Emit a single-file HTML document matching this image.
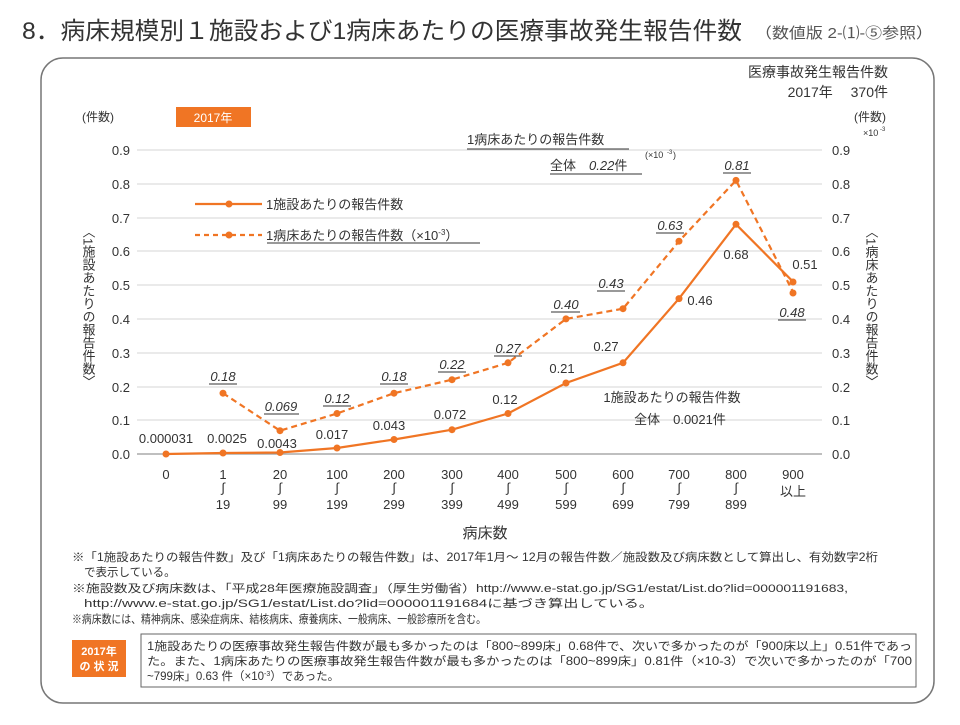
<!DOCTYPE html>
<html><head><meta charset="utf-8"><style>
body{margin:0;background:#fff;width:960px;height:720px;overflow:hidden}
svg text{font-family:"Liberation Sans","Noto Sans CJK JP",sans-serif;fill:#333}
</style></head><body>
<svg width="960" height="720" xmlns="http://www.w3.org/2000/svg">
<text x="22" y="39" font-size="24" textLength="720" lengthAdjust="spacingAndGlyphs">8．病床規模別１施設および1病床あたりの医療事故発生報告件数</text>
<text x="755" y="38" font-size="15" textLength="178" lengthAdjust="spacingAndGlyphs" style="fill:#555">（数値版 2-⑴-⑤参照）</text>
<rect x="41" y="58" width="893" height="645" rx="22" fill="none" stroke="#777" stroke-width="1.5"/>
<text x="888" y="77" font-size="14" text-anchor="end">医療事故発生報告件数</text>
<text x="888" y="97" font-size="14" text-anchor="end">2017年　  370件</text>
<text x="98" y="121" font-size="12" text-anchor="middle">(件数)</text>
<rect x="176" y="107" width="75" height="20" fill="#f07524"/>
<text x="213" y="122" font-size="12" text-anchor="middle" style="fill:#fff">2017年</text>
<text x="870" y="121" font-size="12" text-anchor="middle">(件数)</text>
<text x="863" y="136" font-size="9">×10</text><text x="880" y="131" font-size="6">-3</text>
<g stroke="#ddd" stroke-width="1.3">
<line x1="137" x2="822" y1="150" y2="150"/><line x1="137" x2="822" y1="184" y2="184"/><line x1="137" x2="822" y1="218" y2="218"/><line x1="137" x2="822" y1="251" y2="251"/><line x1="137" x2="822" y1="285" y2="285"/><line x1="137" x2="822" y1="319" y2="319"/><line x1="137" x2="822" y1="353" y2="353"/><line x1="137" x2="822" y1="387" y2="387"/><line x1="137" x2="822" y1="420" y2="420"/>
</g>
<line x1="137" x2="822" y1="454" y2="454" stroke="#999" stroke-width="1.3"/>
<g font-size="13" text-anchor="end">
<text x="130" y="155">0.9</text><text x="130" y="189">0.8</text><text x="130" y="223">0.7</text><text x="130" y="256">0.6</text><text x="130" y="290">0.5</text><text x="130" y="324">0.4</text><text x="130" y="358">0.3</text><text x="130" y="392">0.2</text><text x="130" y="425">0.1</text><text x="130" y="459">0.0</text>
</g>
<g font-size="13">
<text x="832" y="155">0.9</text><text x="832" y="189">0.8</text><text x="832" y="223">0.7</text><text x="832" y="256">0.6</text><text x="832" y="290">0.5</text><text x="832" y="324">0.4</text><text x="832" y="358">0.3</text><text x="832" y="392">0.2</text><text x="832" y="425">0.1</text><text x="832" y="459">0.0</text>
</g>
<text font-size="13" x="88" y="225" style="writing-mode:vertical-rl">〈1施設あたりの報告件数〉</text>
<text font-size="13" x="871" y="225" style="writing-mode:vertical-rl">〈1病床あたりの報告件数〉</text>
<g font-size="13" text-anchor="middle">
<text x="166" y="479">0</text>
<text x="223" y="479">1</text><text x="223" y="492">∫</text><text x="223" y="509">19</text>
<text x="280" y="479">20</text><text x="280" y="492">∫</text><text x="280" y="509">99</text>
<text x="337" y="479">100</text><text x="337" y="492">∫</text><text x="337" y="509">199</text>
<text x="394" y="479">200</text><text x="394" y="492">∫</text><text x="394" y="509">299</text>
<text x="452" y="479">300</text><text x="452" y="492">∫</text><text x="452" y="509">399</text>
<text x="508" y="479">400</text><text x="508" y="492">∫</text><text x="508" y="509">499</text>
<text x="566" y="479">500</text><text x="566" y="492">∫</text><text x="566" y="509">599</text>
<text x="623" y="479">600</text><text x="623" y="492">∫</text><text x="623" y="509">699</text>
<text x="679" y="479">700</text><text x="679" y="492">∫</text><text x="679" y="509">799</text>
<text x="736" y="479">800</text><text x="736" y="492">∫</text><text x="736" y="509">899</text>
<text x="793" y="479">900</text><text x="793" y="496">以上</text>
<text x="485" y="538" font-size="15">病床数</text>
</g>
<polyline fill="none" stroke="#f07524" stroke-width="2.2" points="166,454 223,453 280,452.5 337,448 394,439.5 452,429.7 508,413.5 566,383 623,362.8 679,298.6 736,224.3 793,281.7"/>
<polyline fill="none" stroke="#f07524" stroke-width="2.2" stroke-dasharray="6,4" points="223,393.2 280,430.7 337,413.5 394,393.2 452,379.7 508,362.8 566,318.9 623,308.7 679,241.2 736,180.4 793,291.9"/>
<g fill="#f07524">
<circle cx="166" cy="454" r="3.5"/><circle cx="223" cy="453" r="3.5"/><circle cx="280" cy="452.5" r="3.5"/><circle cx="337" cy="448" r="3.5"/><circle cx="394" cy="439.5" r="3.5"/><circle cx="452" cy="429.7" r="3.5"/><circle cx="508" cy="413.5" r="3.5"/><circle cx="566" cy="383" r="3.5"/><circle cx="623" cy="362.8" r="3.5"/><circle cx="679" cy="298.6" r="3.5"/><circle cx="736" cy="224.3" r="3.5"/><circle cx="793" cy="282" r="3.5"/>
<circle cx="223" cy="393.2" r="3.5"/><circle cx="280" cy="430.7" r="3.5"/><circle cx="337" cy="413.5" r="3.5"/><circle cx="394" cy="393.2" r="3.5"/><circle cx="452" cy="379.7" r="3.5"/><circle cx="508" cy="362.8" r="3.5"/><circle cx="566" cy="318.9" r="3.5"/><circle cx="623" cy="308.7" r="3.5"/><circle cx="679" cy="241.2" r="3.5"/><circle cx="736" cy="180.4" r="3.5"/><circle cx="793" cy="293" r="3.5"/>
</g>
<g font-size="13" text-anchor="middle">
<text x="166" y="443">0.000031</text><text x="227" y="443">0.0025</text><text x="277" y="448">0.0043</text><text x="332" y="439">0.017</text><text x="389" y="430">0.043</text><text x="450" y="419">0.072</text><text x="505" y="404">0.12</text><text x="562" y="373">0.21</text><text x="606" y="351">0.27</text><text x="700" y="305">0.46</text><text x="736" y="259">0.68</text><text x="805" y="269">0.51</text>
</g>
<g font-size="13" text-anchor="middle" font-style="italic">
<text x="223" y="381">0.18</text><text x="281" y="411">0.069</text><text x="337" y="403">0.12</text><text x="394" y="381">0.18</text><text x="452" y="369">0.22</text><text x="508" y="353">0.27</text><text x="566" y="309">0.40</text><text x="611" y="288">0.43</text><text x="670" y="230">0.63</text><text x="737" y="170">0.81</text><text x="792" y="317">0.48</text>
</g>
<g stroke="#333" stroke-width="1">
<line x1="209" x2="237" y1="384" y2="384"/><line x1="264" x2="299" y1="414" y2="414"/><line x1="323" x2="351" y1="406" y2="406"/><line x1="380" x2="408" y1="384" y2="384"/><line x1="438" x2="466" y1="372" y2="372"/><line x1="494" x2="522" y1="356" y2="356"/><line x1="551" x2="580" y1="312" y2="312"/><line x1="597" x2="625" y1="291" y2="291"/><line x1="656" x2="684" y1="233" y2="233"/><line x1="723" x2="751" y1="173" y2="173"/><line x1="778" x2="806" y1="320" y2="320"/>
<line x1="467" x2="629" y1="149" y2="149"/><line x1="550" x2="642" y1="174" y2="174"/><line x1="267" x2="480" y1="243" y2="243"/>
</g>
<text x="467" y="144" font-size="13">1病床あたりの報告件数</text>
<text x="550" y="170" font-size="13">全体　<tspan font-style="italic">0.22</tspan>件</text>
<text x="645" y="158" font-size="9">(×10</text><text x="667" y="154" font-size="6">-3</text><text x="673" y="158" font-size="9">)</text>
<line x1="195" x2="262" y1="204" y2="204" stroke="#f07524" stroke-width="2.2"/><circle cx="229" cy="204" r="3.5" fill="#f07524"/>
<text x="266" y="209" font-size="13">1施設あたりの報告件数</text>
<line x1="195" x2="262" y1="235" y2="235" stroke="#f07524" stroke-width="2.2" stroke-dasharray="5,4"/><circle cx="229" cy="235" r="3.5" fill="#f07524"/>
<text x="266" y="240" font-size="13">1病床あたりの報告件数（×10<tspan font-size="8" dy="-5">-3</tspan><tspan dy="5">）</tspan></text>
<text x="672" y="402" font-size="13" text-anchor="middle">1施設あたりの報告件数</text>
<text x="680" y="424" font-size="13" text-anchor="middle">全体　0.0021件</text>
<g font-size="11.5">
<text x="72" y="561" textLength="806" lengthAdjust="spacingAndGlyphs">※「1施設あたりの報告件数」及び「1病床あたりの報告件数」は、2017年1月～ 12月の報告件数／施設数及び病床数として算出し、有効数字2桁</text>
<text x="84" y="576">で表示している。</text>
<text x="72" y="592" font-size="11" textLength="776" lengthAdjust="spacingAndGlyphs">※施設数及び病床数は、「平成28年医療施設調査」（厚生労働省）http://www.e-stat.go.jp/SG1/estat/List.do?lid=000001191683,</text>
<text x="84" y="607" font-size="11" textLength="570" lengthAdjust="spacingAndGlyphs">http://www.e-stat.go.jp/SG1/estat/List.do?lid=000001191684に基づき算出している。</text>
<text x="72" y="623" textLength="414" lengthAdjust="spacingAndGlyphs">※病床数には、精神病床、感染症病床、結核病床、療養病床、一般病床、一般診療所を含む。</text>
</g>
<rect x="72" y="640" width="54" height="37" fill="#f07524"/>
<text x="99" y="655" font-size="11" text-anchor="middle" style="fill:#fff" font-weight="bold">2017年</text>
<text x="99" y="670" font-size="11" text-anchor="middle" style="fill:#fff" font-weight="bold">の 状 況</text>
<rect x="141" y="634" width="775" height="53" fill="none" stroke="#666" stroke-width="1"/>
<g font-size="11.5">
<text x="147" y="650" textLength="765" lengthAdjust="spacingAndGlyphs">1施設あたりの医療事故発生報告件数が最も多かったのは「800~899床」0.68件で、次いで多かったのが「900床以上」0.51件であっ</text>
<text x="147" y="665" textLength="765" lengthAdjust="spacingAndGlyphs">た。また、1病床あたりの医療事故発生報告件数が最も多かったのは「800~899床」0.81件（×10-3）で次いで多かったのが「700</text>
<text x="147" y="680">~799床」0.63 件（×10<tspan font-size="7" dy="-4">-3</tspan><tspan dy="4">）であった。</tspan></text>
</g>
</svg>
</body></html>
